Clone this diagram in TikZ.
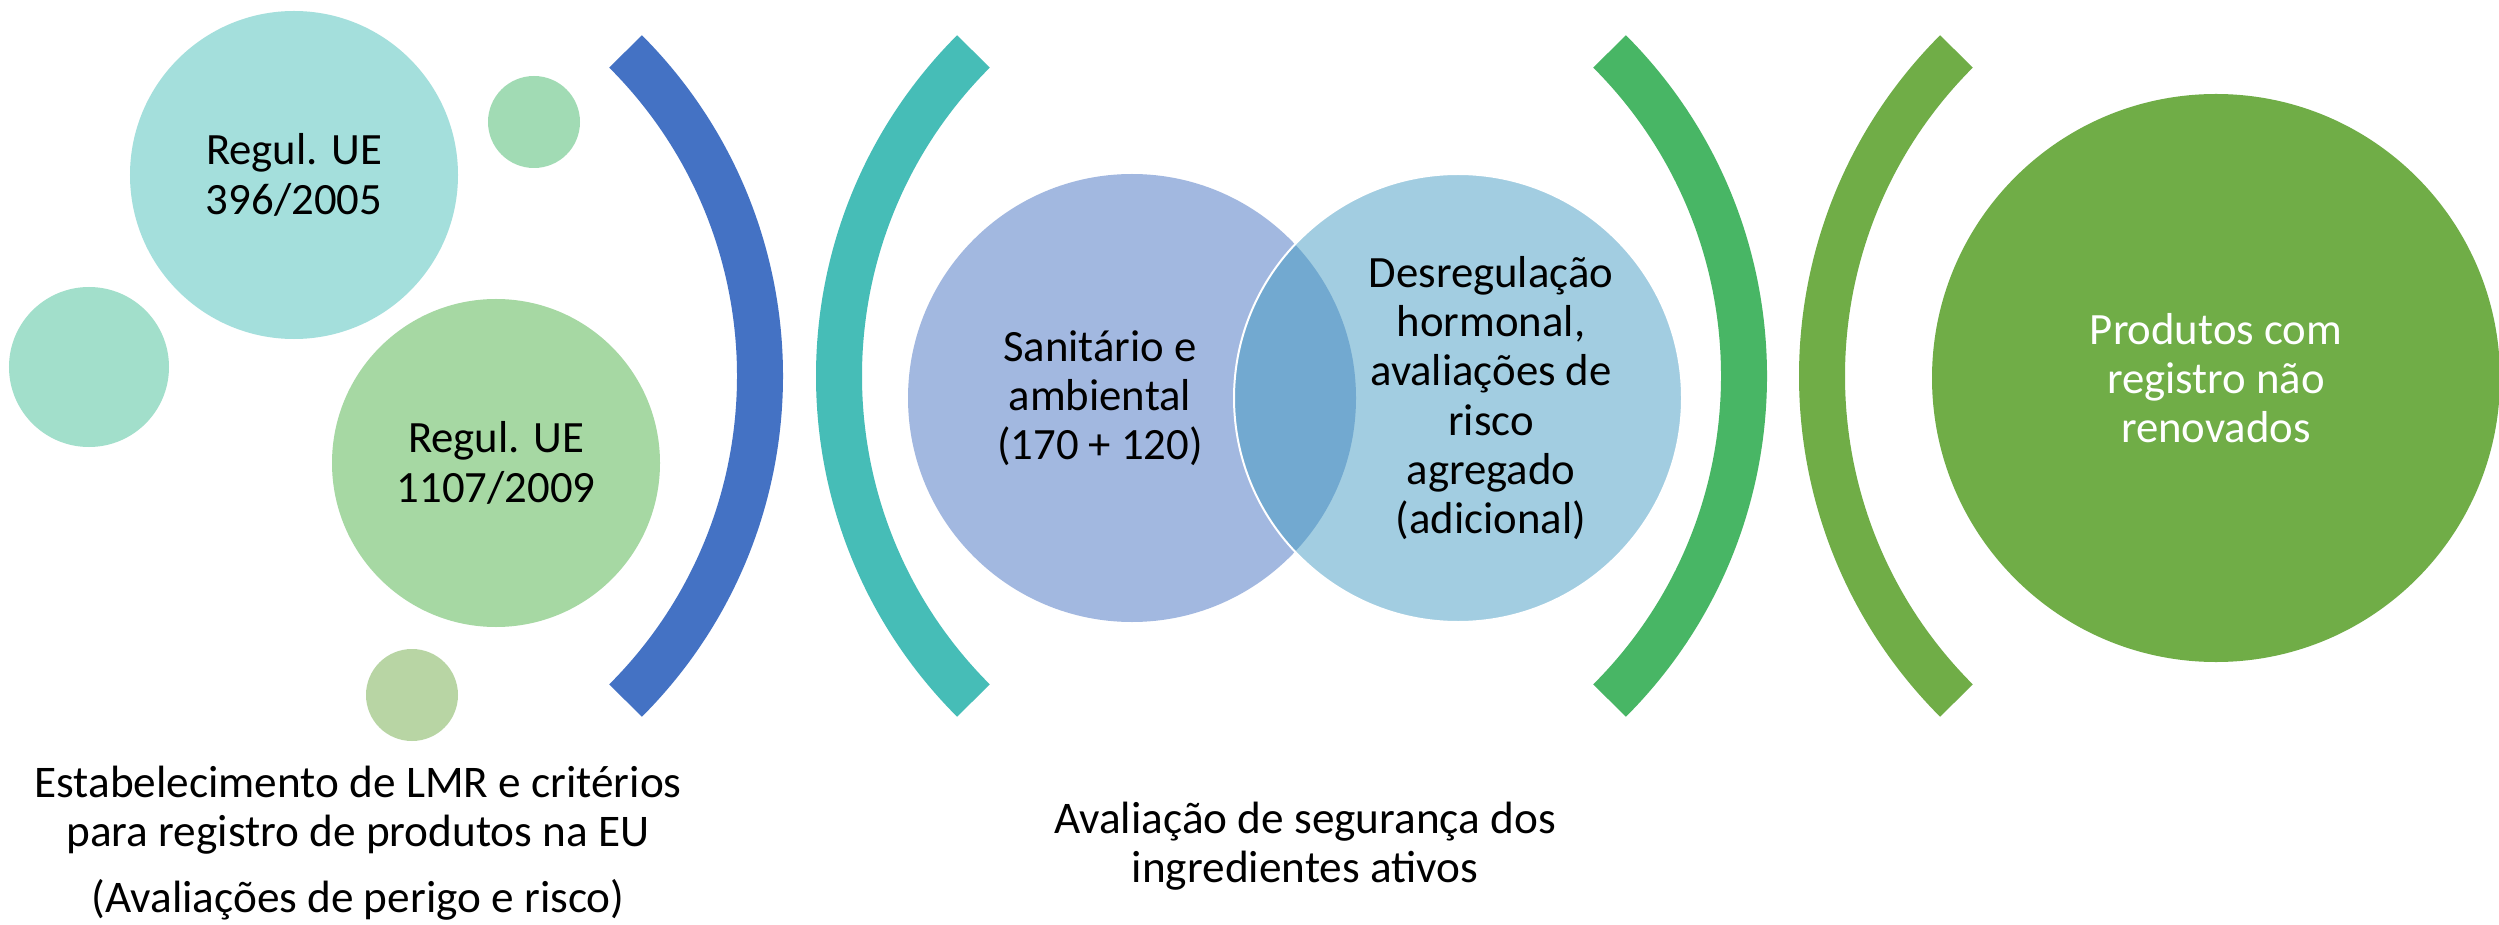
\documentclass[tikz,border=0pt]{standalone}
\usepackage{fontspec}
\setmainfont{Carlito}
\usepackage{tikz}
\usetikzlibrary{positioning}
\definecolor{AzulTrazo}{RGB}{68,114,196}
\definecolor{TurquesaTrazo}{RGB}{70,189,183}
\definecolor{VerdeTrazo}{RGB}{72,182,101}
\definecolor{OlivaTrazo}{RGB}{112,173,71}
\definecolor{TurquesaSuave}{RGB}{164,223,220}
\definecolor{MentaSuave}{RGB}{161,219,180}
\definecolor{MentaMedia}{RGB}{162,223,203}
\definecolor{VerdeSuave}{RGB}{166,216,163}
\definecolor{OlivaSuave}{RGB}{184,213,164}
\definecolor{VennIzq}{RGB}{162,184,224}
\definecolor{VennDer}{RGB}{162,205,225}
\definecolor{VennComun}{RGB}{114,169,208}

\begin{document}
\begin{tikzpicture}[x=0.4pt,y=-0.4pt,
  bubble/.style={circle,inner sep=0pt,align=center,font=\fontsize{17.9}{19.7}\selectfont},
  rotulo/.style={inner sep=0pt,align=center,font=\fontsize{18.1}{19.7}\selectfont},
  bracket/.style={line width=18.4pt}]
  \fill[white] (0,0) rectangle (2499,925);
  \useasboundingbox (0,0) rectangle (2499,925);

  % Burbujas de la normativa
  \node[bubble,fill=TurquesaSuave,minimum size=131.2pt] (reg396) at (294,175) {Regul. UE\\396/2005};
  \node[bubble,fill=MentaSuave,minimum size=36.8pt] (gotaA) at (534,122) {};
  \node[bubble,fill=MentaMedia,minimum size=64pt] (gotaB) at (89,367) {};
  \node[bubble,fill=VerdeSuave,minimum size=131.2pt] (reg1107) at (496,463) {Regul. UE\\1107/2009};
  \node[bubble,fill=OlivaSuave,minimum size=36.8pt] (gotaC) at (412,695) {};

  % Parentesis
  \draw[bracket,AzulTrazo] (301,376) ++(-45:183.6pt) arc[start angle=-45,end angle=45,radius=183.6pt];
  \draw[bracket,TurquesaTrazo] (1298,376) ++(135:183.6pt) arc[start angle=135,end angle=225,radius=183.6pt];
  \draw[bracket,VerdeTrazo] (1285,376) ++(-45:183.6pt) arc[start angle=-45,end angle=45,radius=183.6pt];
  \draw[bracket,OlivaTrazo] (2281,376) ++(135:183.6pt) arc[start angle=135,end angle=225,radius=183.6pt];

  % Diagrama de Venn
  \node[bubble,fill=VennIzq,minimum size=179.2pt] (sanit) at (1132,398) {};
  \node[bubble,fill=VennDer,minimum size=179.2pt] (hormo) at (1458,398) {};
  \begin{scope}
    \clip (sanit.center) circle[radius=89.6pt];
    \fill[VennComun] (hormo.center) circle[radius=89.6pt];
  \end{scope}
  \draw[white,line width=0.8pt] (hormo.center) circle[radius=89.6pt];
  \node[bubble] (sanitTxt) at (1100,398) {Sanitário e\\ambiental\\(170 + 120)};
  \node[bubble] (hormoTxt) at (1491,398) {Desregulação\\hormonal,\\avaliações de\\risco\\agregado\\(adicional)};

  % Resultado
  \node[bubble,fill=OlivaTrazo,text=white,minimum size=227.2pt] (produtos) at (2216,378) {Produtos com\\registro não\\renovados};

  % Textos inferiores
  \node[rotulo] (lmr) at (358,810) {Estabelecimento de LMR e critérios\\para registro de produtos na EU};
  \node[rotulo] (perigo) at (358,900) {(Avaliações de perigo e risco)};
  \node[rotulo] (seguranca) at (1305,846) {Avaliação de segurança dos\\ingredientes ativos};
\end{tikzpicture}
\end{document}
